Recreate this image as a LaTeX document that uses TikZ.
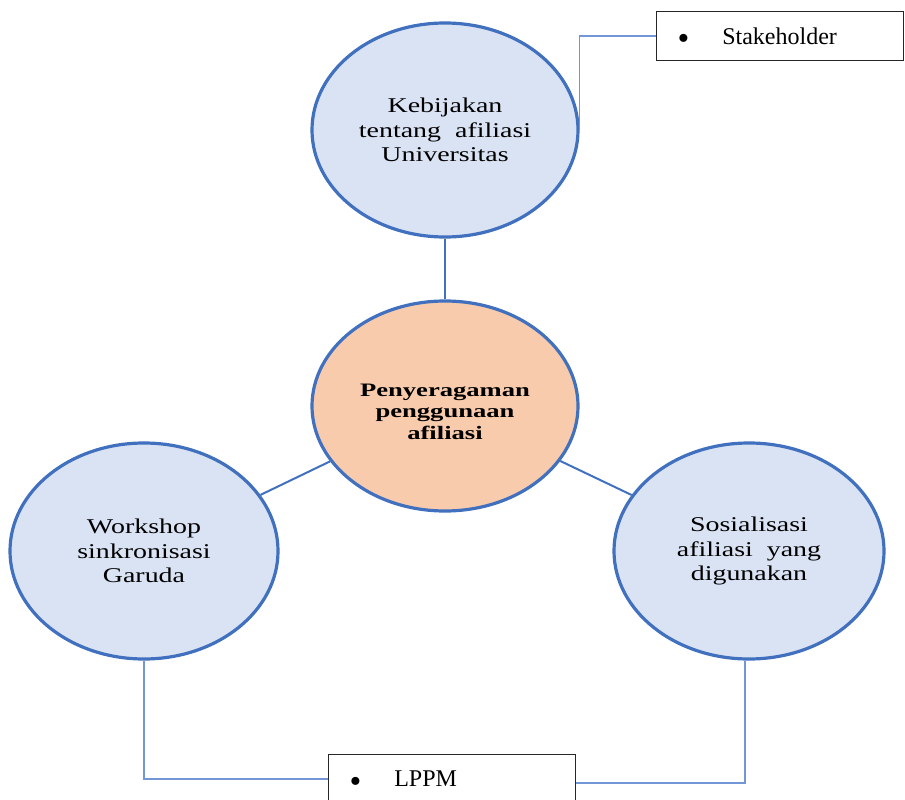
\documentclass[tikz,border=0pt]{standalone}
\usepackage{fontspec}
\setmainfont{Liberation Serif}
\newfontfamily\widefont[FakeStretch=1.33]{Liberation Serif}
\newfontfamily\hubfont[FakeStretch=1.4]{Liberation Serif}
\usetikzlibrary{shapes.geometric}

\definecolor{ringblue}{HTML}{4170BF}
\definecolor{paleblue}{HTML}{DAE3F3}
\definecolor{peach}{HTML}{F8CBAD}
\definecolor{linkblue}{HTML}{7396D6}
\definecolor{boxline}{HTML}{262626}

% a larger bullet, sitting a little low as in list items (no effect on line height)
\newcommand{\bigdot}{\raisebox{-5.5pt}[0pt][0pt]{\scalebox{1.4}{\textbullet}}}

\tikzset{
  bubble/.style={ellipse, draw=ringblue, line width=3.2pt, fill=paleblue,
    inner sep=0pt, align=center,
    font=\widefont\fontsize{21}{24.5}\selectfont},
  hub/.style={bubble, fill=peach,
    font=\hubfont\bfseries\fontsize{19}{21.5}\selectfont},
  spoke/.style={draw=ringblue, line width=2pt},
  tag/.style={draw=boxline, line width=1pt, fill=white, anchor=north west,
    minimum width=247pt, minimum height=49pt, inner xsep=21pt,
    text width=205pt, align=left,
    font=\fontsize{24}{28}\selectfont},
  bracket/.style={draw=linkblue, line width=1.3pt}
}

\begin{document}
\begin{tikzpicture}[x=1pt, y=-1pt]
  \useasboundingbox (0,0) rectangle (905,800);

  % four ellipses
  \node[bubble, minimum width=266pt, minimum height=214pt] (policy) at (445,130)
    {Kebijakan\\tentang\ \ afiliasi\\Universitas};
  \node[hub, minimum width=266pt, minimum height=210pt] (hub) at (445,406)
    {\rule{0pt}{24pt}Penyeragaman\\penggunaan\\afiliasi};
  \node[bubble, minimum width=268pt, minimum height=216pt] (workshop) at (144,551)
    {Workshop\\sinkronisasi\\Garuda};
  \node[bubble, minimum width=270pt, minimum height=216pt] (social) at (749,551)
    {Sosialisasi\\afiliasi\ \ yang\\digunakan};

  % spokes to the centre
  \draw[spoke] (policy) -- (hub);
  \draw[spoke] (hub) -- (workshop);
  \draw[spoke] (hub) -- (social);

  % labelled boxes
  \node[tag] (stake) at (656,11) {\bigdot\hspace{33pt}Stakeholder};
  \node[tag] (lppm) at (328,754) {\bigdot\hspace{33pt}LPPM};

  % elbow links to the boxes
  \draw[bracket] (stake.west) -- (stake.west -| policy.east) -- (policy.east);
  \draw[bracket] (workshop.south) -- (workshop.south |- lppm.west) -- (lppm.west);
  \coordinate (lppmR) at ([yshift=-4pt]lppm.east);
  \coordinate (socialB) at ([xshift=-4pt]social.south);
  \draw[bracket] (lppmR) -- (lppmR -| socialB) -- (socialB);
\end{tikzpicture}
\end{document}
